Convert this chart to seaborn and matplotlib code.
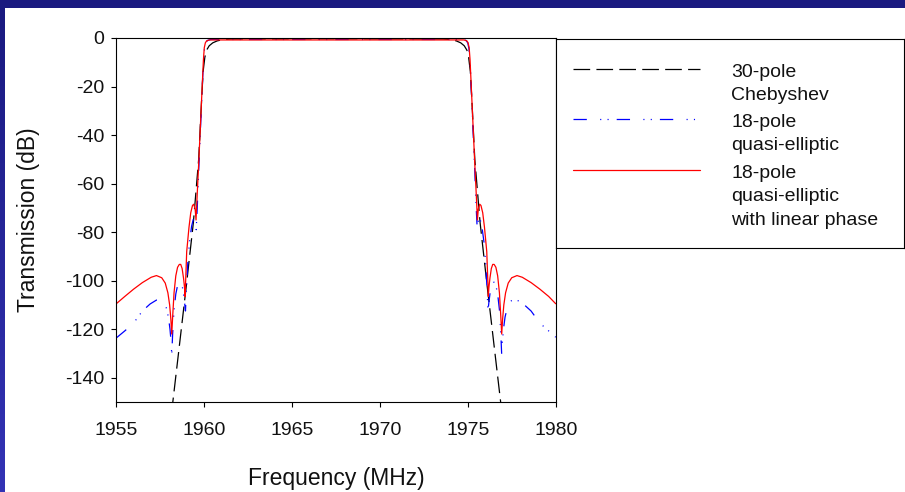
import numpy as np
import pandas as pd
import matplotlib
matplotlib.use("Agg")
import matplotlib.pyplot as plt
import seaborn as sns
from matplotlib.colors import LinearSegmentedColormap

sns.set_theme(style="white")
plt.rcParams['font.family'] = ['Liberation Sans', 'DejaVu Sans']
plt.rcParams['lines.scale_dashes'] = False
plt.rcParams['axes.unicode_minus'] = False

# ---------------- data ----------------
series_labels = ["30-pole\nChebyshev", "18-pole\nquasi-elliptic",
                 "18-pole\nquasi-elliptic\nwith linear phase"]
x_ticks = [1955, 1960, 1965, 1970, 1975, 1980]
y_ticks = [0, -20, -40, -60, -80, -100, -120, -140]

cheb_freq = [1958.15, 1958.6, 1959.0, 1959.4, 1959.7, 1959.85, 1959.95, 1960.05, 1960.15, 1960.3,
             1960.5, 1960.75, 1961.1, 1961.5, 1967.55, 1973.6, 1974.0, 1974.35, 1974.6, 1974.8,
             1974.95, 1975.05, 1975.15, 1975.25, 1975.4, 1975.7, 1976.1, 1976.5, 1976.95]
cheb_db = [-155, -127, -102, -76, -50, -28, -14, -8, -5, -3.2,
           -2, -1.2, -0.6, -0.4, -0.3, -0.4, -0.6, -1.2, -2, -3.2,
           -5, -8, -14, -28, -50, -76, -102, -127, -155]

qe_freq_low = [1955.0, 1955.5, 1956.0, 1956.5, 1956.94, 1957.3, 1957.5, 1957.7, 1957.85, 1957.98,
               1958.07, 1958.13, 1958.17, 1958.22, 1958.3, 1958.4, 1958.5, 1958.65, 1958.75, 1958.83,
               1958.9, 1958.95, 1959.0, 1959.08, 1959.18, 1959.3, 1959.42, 1959.5, 1959.56, 1959.62,
               1959.7, 1959.8, 1959.9, 1959.97, 1960.03, 1960.1, 1960.2, 1960.4]
qe_db_low = [-123.7, -120.7, -117.5, -112.5, -109.6, -108.0, -107.8, -108.6, -111, -115,
             -120, -125, -130.6, -122, -112, -105.5, -102, -100.2, -101.5, -105,
             -109, -112.5, -104, -93, -84, -77.5, -74, -75.5, -79, -70,
             -55, -38, -21, -10, -4.5, -2, -1.0, -0.6]
qe_freq_high = [1974.70, 1974.90, 1975.00, 1975.07, 1975.13, 1975.20, 1975.30, 1975.40, 1975.48, 1975.54,
                1975.60, 1975.68, 1975.80, 1975.92, 1976.02, 1976.10, 1976.15, 1976.20, 1976.27, 1976.35,
                1976.45, 1976.60, 1976.70, 1976.80, 1976.88, 1976.93, 1976.97, 1977.03, 1977.12, 1977.25,
                1977.40, 1977.60, 1977.80, 1978.16, 1978.60, 1979.10, 1979.60, 1980.00]
qe_db_high = [-0.6, -1.0, -2, -4.5, -10, -21, -38, -55, -70, -79,
              -75.5, -74, -77.5, -84, -93, -104, -112.5, -109, -105, -101.5,
              -100.2, -102, -105.5, -112, -122, -130.6, -125, -120, -115, -111,
              -108.6, -107.8, -108.0, -109.6, -112.5, -117.5, -120.7, -123.3]

lp_freq_low = [1955.0, 1955.5, 1956.0, 1956.5, 1957.0, 1957.3, 1957.6, 1957.8, 1957.95, 1958.05,
               1958.12, 1958.17, 1958.22, 1958.3, 1958.4, 1958.5, 1958.6, 1958.68, 1958.76, 1958.84,
               1958.9, 1958.93, 1958.97, 1959.02, 1959.15, 1959.25, 1959.35, 1959.42, 1959.5, 1959.55,
               1959.6, 1959.7, 1959.8, 1959.9, 1959.97, 1960.02, 1960.08, 1960.15, 1960.3]
lp_db_low = [-109.6, -106.5, -103.5, -100.8, -98.6, -97.9, -98.8, -101, -105, -110,
             -116, -122, -115, -105, -98, -94.5, -93.3, -93.3, -95, -99,
             -103, -106.5, -98, -88, -78, -72, -69, -68.5, -70.5, -75,
             -67, -52, -36, -20, -9, -4, -2, -1.2, -0.8]
lp_freq_high = [1974.80, 1974.95, 1975.02, 1975.08, 1975.13, 1975.20, 1975.30, 1975.40, 1975.50, 1975.55,
                1975.60, 1975.68, 1975.75, 1975.85, 1975.95, 1976.08, 1976.13, 1976.17, 1976.20, 1976.26,
                1976.34, 1976.42, 1976.50, 1976.60, 1976.70, 1976.80, 1976.88, 1976.93, 1976.98, 1977.05,
                1977.15, 1977.30, 1977.50, 1977.80, 1978.10, 1978.60, 1979.10, 1979.60, 1980.00]
lp_db_high = [-0.8, -1.2, -2, -4, -9, -20, -36, -52, -67, -75,
              -70.5, -68.5, -69, -72, -78, -88, -98, -106.5, -103, -99,
              -95, -93.3, -93.3, -94.5, -98, -105, -115, -122, -116, -110,
              -105, -101, -98.8, -97.9, -98.6, -100.8, -103.5, -106.5, -109.5]

# ---------------- figure ----------------
W, H = 905, 492
fig = plt.figure(figsize=(W / 100, H / 100), dpi=100)
fig.patch.set_facecolor('white')

# blue slide border (top band + left strip with gradient)
top = fig.add_axes([0, 1 - 8 / H, 1, 8 / H])
top.set_facecolor('#1a1a80')
top.set_xticks([]); top.set_yticks([])
for s in top.spines.values():
    s.set_visible(False)
left = fig.add_axes([0, 0, 5 / W, 1 - 8 / H])
grad = np.linspace(0, 1, 256).reshape(-1, 1)
cmap = LinearSegmentedColormap.from_list('b', ['#1a1a80', '#3333b5'])
left.imshow(grad, aspect='auto', cmap=cmap, extent=[0, 1, 0, 1], origin='upper')
left.set_axis_off()

ax = fig.add_axes([116 / W, 1 - 402 / H, (555.7 - 116) / W, (402 - 38) / H])
ax.set_facecolor('white')

df_cheb = pd.DataFrame({'freq': cheb_freq, 'db': cheb_db})
df_qe = pd.DataFrame({'freq': qe_freq_low + qe_freq_high, 'db': qe_db_low + qe_db_high})
df_lp = pd.DataFrame({'freq': lp_freq_low + lp_freq_high, 'db': lp_db_low + lp_db_high})

cheb_dash = (12.0, 4.5)
qe_dash = (9.6, 9.6, 0.8, 4.5, 0.8, 5.8)

sns.lineplot(data=df_cheb, x='freq', y='db', color='black', lw=0.9,
             estimator=None, sort=False, ax=ax)
ax.lines[-1].set_dashes(cheb_dash)
sns.lineplot(data=df_qe, x='freq', y='db', color='#0000ff', lw=0.9,
             estimator=None, sort=False, ax=ax)
ax.lines[-1].set_dashes(qe_dash)
sns.lineplot(data=df_lp, x='freq', y='db', color='#ff0000', lw=0.9,
             estimator=None, sort=False, ax=ax)

ax.set_xlim(1955, 1980)
ax.set_ylim(-150, 0)
ax.set_xticks(x_ticks)
ax.set_yticks(y_ticks)
ax.set_xticklabels([str(v) for v in x_ticks])
ax.set_yticklabels([str(v) for v in y_ticks])
ax.tick_params(axis='both', direction='out', length=3.5, width=0.8, color='black',
               labelsize=14, labelcolor='#111111', bottom=True, left=True)
ax.tick_params(axis='x', pad=11)
ax.tick_params(axis='y', pad=5)
for s in ax.spines.values():
    s.set_visible(True)
    s.set_color('black')
    s.set_linewidth(0.8)
ax.set_xlabel('Frequency (MHz)', fontsize=16.5, color='#111111', labelpad=20)
ax.set_ylabel('Transmission (dB)', fontsize=16.5, color='#111111', labelpad=18)

# ---------------- legend box ----------------
lax = fig.add_axes([556 / W, 1 - 248 / H, (904 - 556) / W, (248 - 39) / H])
lax.set_xlim(556, 904)
lax.set_ylim(248, 39)
lax.set_xticks([]); lax.set_yticks([])
lax.set_facecolor('white')
for s in lax.spines.values():
    s.set_color('black')
    s.set_linewidth(0.8)
handle_y = [69.5, 119.5, 170.5]
text_y = [[76.7, 100.0], [126.7, 150.5], [177.5, 201.5, 225.5]]
styles = [('black', cheb_dash), ('#0000ff', qe_dash), ('#ff0000', None)]
for hy, ty, lab, (col, dsh) in zip(handle_y, text_y, series_labels, styles):
    ln, = lax.plot([573, 700], [hy, hy], color=col, lw=0.9)
    if dsh is not None:
        ln.set_dashes(dsh)
    for yy, line in zip(ty, lab.split('\n')):
        lax.text(731, yy, line, fontsize=14, color='#111111', va='baseline', ha='left')

fig.savefig('out.png', dpi=100)
